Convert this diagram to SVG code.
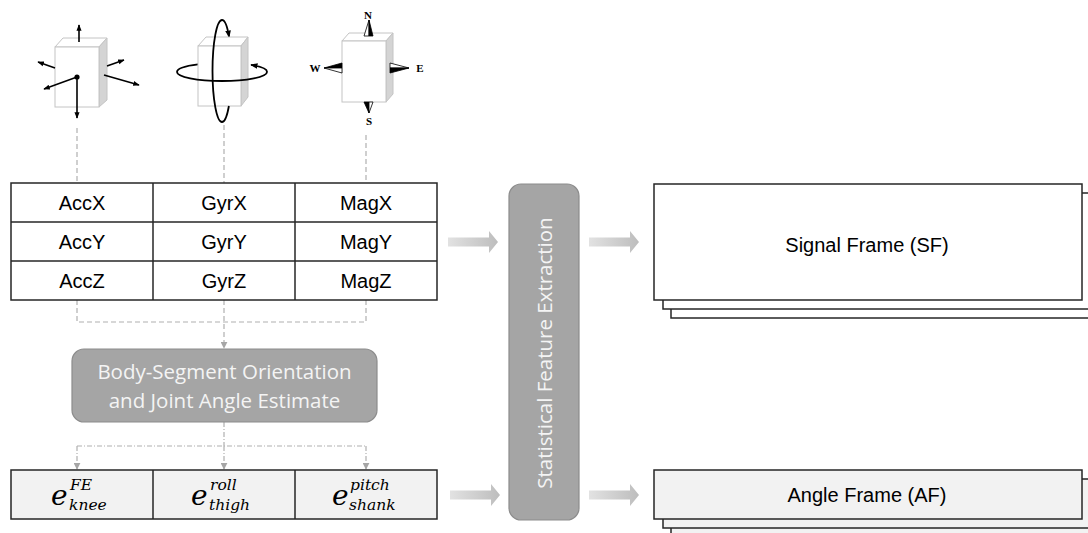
<svg xmlns="http://www.w3.org/2000/svg" width="1088" height="533" viewBox="0 0 1088 533">
  <defs>
    <style>
      .cube-face { fill: #ffffff; stroke: #c4c4c4; stroke-width: 1; }
      .cube-side { fill: #d4d4d4; stroke: #c4c4c4; stroke-width: 1; }
      .vec { stroke: #000; stroke-width: 1.6; fill: none; marker-end: url(#tip); }
      .ring { stroke: #000; stroke-width: 1.8; fill: none; }
      .compass { font-family: "Liberation Serif", serif; font-weight: bold; font-size: 11px; fill: #000; text-anchor: middle; }
      .cell { fill: #fff; stroke: #262626; stroke-width: 1.5; }
      .cell-grey { fill: #f2f2f2; stroke: #262626; stroke-width: 1.5; }
      .grid { stroke: #262626; stroke-width: 1.5; }
      .label { font-family: "Liberation Sans", Arial, sans-serif; font-size: 20px; fill: #000; text-anchor: middle; }
      .proc { fill: #a5a5a5; stroke: #8c8c8c; stroke-width: 1.2; }
      .proc-text { font-family: "Open Sans", "Liberation Sans", sans-serif; font-size: 20.5px; fill: #f4f4f4; text-anchor: middle; }
      .math { font-family: "DejaVu Serif", "Liberation Serif", serif; font-style: italic; fill: #000; }
      .dash { stroke: #b0b0b0; stroke-width: 1.2; fill: none; stroke-dasharray: 5 3; }
      .dashdot { stroke: #b0b0b0; stroke-width: 1.2; fill: none; stroke-dasharray: 5 2 1 2; }
      .block { fill: url(#blockGrad); }
    </style>
    <marker id="tip" viewBox="0 0 10 10" refX="9" refY="5" markerWidth="4" markerHeight="4" orient="auto">
      <path d="M0,1 L10,5 L0,9 Z" fill="#000"/>
    </marker>
    <marker id="gtip" viewBox="0 0 10 10" refX="9" refY="5" markerWidth="7" markerHeight="7" markerUnits="userSpaceOnUse" orient="auto">
      <path d="M0,0 L10,5 L0,10 Z" fill="#a6a6a6"/>
    </marker>
    <linearGradient id="blockGrad" x1="0" y1="0" x2="1" y2="0">
      <stop offset="0" stop-color="#e2e2e2"/>
      <stop offset="1" stop-color="#bdbdbd"/>
    </linearGradient>
  </defs>

  <!-- Accelerometer sensor icon -->
  <g id="icon-acc">
    <polygon class="cube-face" points="55,47 63,38 107,38 99,47"/>
    <polygon class="cube-side" points="99,47 107,38 107,100 99,107"/>
    <rect class="cube-face" x="55" y="47" width="44" height="60"/>
    <line class="vec" x1="79" y1="42" x2="79" y2="25"/>
    <line class="vec" x1="55" y1="68" x2="38" y2="62"/>
    <line class="vec" x1="107" y1="66" x2="124" y2="60"/>
    <line class="vec" x1="104" y1="75" x2="139" y2="85"/>
    <line class="vec" x1="77" y1="77" x2="44" y2="89"/>
    <line class="vec" x1="77" y1="77" x2="77" y2="118"/>
    <circle cx="77" cy="77" r="2.6" fill="#000"/>
  </g>

  <!-- Gyroscope sensor icon -->
  <g id="icon-gyr">
    <path class="ring" d="M177,72 A45,9 0 0 1 198,64.4"/>
    <path class="ring" d="M267,72 A45,9 0 0 0 251,64.9" marker-end="url(#tip)"/>
    <path class="ring" d="M222,20 A9.5,51 0 0 1 229.1,37" marker-end="url(#tip)"/>
    <polygon class="cube-face" points="198,46 206,37 248,37 241,46"/>
    <polygon class="cube-side" points="241,46 248,37 248,97 241,106"/>
    <rect class="cube-face" x="198" y="46" width="43" height="60"/>
    <path class="ring" d="M177,72 A45,9 0 0 0 267,72"/>
    <path class="ring" d="M222,20 A9.5,51 0 0 0 222,122"/>
    <path class="ring" d="M228.9,106 A9.5,51 0 0 1 222,122"/>
  </g>

  <!-- Magnetometer sensor icon -->
  <g id="icon-mag">
    <polygon class="cube-face" points="342,41 349,33 393,33 386,41"/>
    <polygon class="cube-side" points="386,41 393,33 393,94 386,102"/>
    <rect class="cube-face" x="342" y="41" width="44" height="61"/>
    <polygon points="364,36 369,20 369,36" fill="#fff" stroke="#000" stroke-width="0.8"/>
    <polygon points="369,20 373,36 369,36" fill="#000" stroke="#000" stroke-width="0.8"/>
    <polygon points="342,63 324,68 342,68" fill="#000" stroke="#000" stroke-width="0.8"/>
    <polygon points="324,68 342,68 342,73" fill="#fff" stroke="#000" stroke-width="0.8"/>
    <polygon points="390,63 409,68 390,68" fill="#fff" stroke="#000" stroke-width="0.8"/>
    <polygon points="390,68 409,68 390,73" fill="#000" stroke="#000" stroke-width="0.8"/>
    <polygon points="364,102 369,102 369,113" fill="#000" stroke="#000" stroke-width="0.8"/>
    <polygon points="369,102 373,102 369,113" fill="#fff" stroke="#000" stroke-width="0.8"/>
    <text class="compass" x="368" y="19">N</text>
    <text class="compass" x="369" y="125">S</text>
    <text class="compass" x="315" y="72">W</text>
    <text class="compass" x="420" y="72">E</text>
  </g>

  <!-- Connectors -->
  <g id="connectors">
    <line class="dash" x1="77" y1="128" x2="77" y2="183"/>
    <line class="dash" x1="224" y1="125" x2="224" y2="183"/>
    <line class="dash" x1="366" y1="135" x2="366" y2="183"/>
    <polyline class="dash" points="77,300 77,322 366,322 366,300"/>
    <line class="dash" x1="224" y1="300" x2="224" y2="348" marker-end="url(#gtip)"/>
    <line class="dashdot" x1="224" y1="422" x2="224" y2="446"/>
    <line class="dashdot" x1="77" y1="446" x2="366" y2="446"/>
    <line class="dashdot" x1="77" y1="446" x2="77" y2="469" marker-end="url(#gtip)"/>
    <line class="dashdot" x1="224" y1="446" x2="224" y2="469" marker-end="url(#gtip)"/>
    <line class="dashdot" x1="366" y1="446" x2="366" y2="469" marker-end="url(#gtip)"/>
    <polygon class="block" points="448,237.5 489,237.5 489,231 498,242 489,253 489,246.5 448,246.5"/>
    <polygon class="block" points="589,237.5 630,237.5 630,231 639,242 630,253 630,246.5 589,246.5"/>
    <polygon class="block" points="450,490.5 491,490.5 491,484 500,495 491,506 491,499.5 450,499.5"/>
    <polygon class="block" points="589,490.5 630,490.5 630,484 639,495 630,506 630,499.5 589,499.5"/>
  </g>

  <!-- Raw IMU channel table -->
  <g id="imu-table">
    <rect class="cell" x="11" y="183" width="426" height="117"/>
    <line class="grid" x1="153" y1="183" x2="153" y2="300"/>
    <line class="grid" x1="295" y1="183" x2="295" y2="300"/>
    <line class="grid" x1="11" y1="222" x2="437" y2="222"/>
    <line class="grid" x1="11" y1="261" x2="437" y2="261"/>
    <text class="label" x="82" y="210">AccX</text>
    <text class="label" x="224" y="210">GyrX</text>
    <text class="label" x="366" y="210">MagX</text>
    <text class="label" x="82" y="249">AccY</text>
    <text class="label" x="224" y="249">GyrY</text>
    <text class="label" x="366" y="249">MagY</text>
    <text class="label" x="82" y="288">AccZ</text>
    <text class="label" x="224" y="288">GyrZ</text>
    <text class="label" x="366" y="288">MagZ</text>
  </g>

  <!-- Orientation estimation step -->
  <g id="orientation">
    <rect class="proc" x="72" y="349" width="305" height="73" rx="12"/>
    <text class="proc-text" x="224.5" y="379">Body-Segment Orientation</text>
    <text class="proc-text" x="224.5" y="408">and Joint Angle Estimate</text>
  </g>

  <!-- Joint angle table -->
  <g id="angle-table">
    <rect class="cell-grey" x="11" y="470" width="426" height="49"/>
    <line class="grid" x1="153" y1="470" x2="153" y2="519"/>
    <line class="grid" x1="295" y1="470" x2="295" y2="519"/>
    <text class="math" x="51" y="505" font-size="28">e</text>
    <text class="math" x="70" y="490" font-size="15.5">FE</text>
    <text class="math" x="69" y="510" font-size="15.5">knee</text>
    <text class="math" x="191" y="505" font-size="28">e</text>
    <text class="math" x="210" y="490" font-size="15.5">roll</text>
    <text class="math" x="209" y="510" font-size="15.5">thigh</text>
    <text class="math" x="332" y="505" font-size="28">e</text>
    <text class="math" x="350" y="490" font-size="15.5">pitch</text>
    <text class="math" x="349" y="510" font-size="15.5">shank</text>
  </g>

  <!-- Feature extraction step -->
  <g id="feature-extraction">
    <rect class="proc" x="509" y="184" width="70" height="336" rx="12"/>
    <text class="proc-text" transform="translate(552,353) rotate(-90)" x="0" y="0">Statistical Feature Extraction</text>
  </g>

  <!-- Signal frame stack -->
  <g id="signal-frame">
    <rect class="cell" x="671" y="202" width="430" height="116"/>
    <rect class="cell" x="663" y="193" width="430" height="116"/>
    <rect class="cell" x="654" y="184" width="428" height="116"/>
    <text class="label" x="867" y="252">Signal Frame (SF)</text>
  </g>

  <!-- Angle frame stack -->
  <g id="angle-frame">
    <rect class="cell-grey" x="671" y="488" width="430" height="49"/>
    <rect class="cell-grey" x="663" y="479" width="430" height="49"/>
    <rect class="cell-grey" x="654" y="470" width="428" height="49"/>
    <text class="label" x="867" y="502">Angle Frame (AF)</text>
  </g>
</svg>
